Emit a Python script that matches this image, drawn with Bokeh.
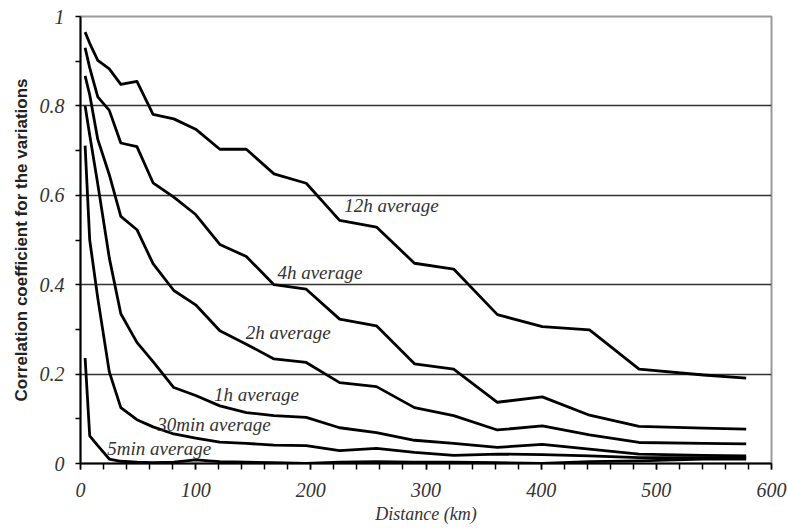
from bokeh.plotting import figure
from bokeh.models import Range1d, FixedTicker
from bokeh.core.properties import value
from bokeh.embed import file_html
from bokeh.resources import INLINE

# ---- data ----
distance_km = [4, 8, 15, 25, 35, 49, 63, 81, 100, 121, 144, 168, 196, 225,
               257, 290, 324, 362, 401, 442, 485, 541, 578]

avg_12h = [0.965, 0.940, 0.902, 0.883, 0.848, 0.855, 0.781, 0.771, 0.748, 0.703,
           0.703, 0.648, 0.627, 0.544, 0.529, 0.448, 0.435, 0.333, 0.306, 0.299,
           0.211, 0.198, 0.191]
avg_4h = [0.930, 0.885, 0.820, 0.790, 0.717, 0.709, 0.628, 0.596, 0.557, 0.490,
          0.463, 0.400, 0.390, 0.323, 0.308, 0.223, 0.211, 0.137, 0.149, 0.108,
          0.083, 0.079, 0.077]
avg_2h = [0.867, 0.825, 0.725, 0.646, 0.553, 0.523, 0.447, 0.387, 0.355, 0.297,
          0.267, 0.234, 0.226, 0.181, 0.172, 0.125, 0.107, 0.075, 0.084, 0.064,
          0.047, 0.045, 0.044]
avg_1h = [0.800, 0.735, 0.625, 0.460, 0.335, 0.271, 0.228, 0.170, 0.152, 0.129,
          0.114, 0.107, 0.103, 0.080, 0.069, 0.052, 0.045, 0.036, 0.043, 0.032,
          0.021, 0.018, 0.017]
avg_30min = [0.711, 0.500, 0.370, 0.205, 0.125, 0.098, 0.082, 0.066, 0.057, 0.048,
             0.045, 0.041, 0.040, 0.029, 0.034, 0.025, 0.018, 0.021, 0.020, 0.017,
             0.013, 0.013, 0.013]
avg_5min = [0.236, 0.062, 0.040, 0.010, 0.005, 0.003, 0.002, 0.003, 0.008, 0.004,
            0.003, 0.002, 0.000, 0.003, 0.004, 0.003, 0.003, 0.002, 0.000, 0.004,
            0.006, 0.010, 0.010]

series = [avg_12h, avg_4h, avg_2h, avg_1h, avg_30min, avg_5min]

label_texts = ["12h average", "4h average", "2h average", "1h average",
               "30min average", "5min average"]
label_x = [229, 171, 143.5, 116, 66.7, 23.2]
label_y = [0.577, 0.428, 0.293, 0.155, 0.088, 0.034]

x_ticks = [0, 100, 200, 300, 400, 500, 600]
x_minor = [v for v in range(0, 601, 20)]
y_ticks = [0, 0.2, 0.4, 0.6, 0.8, 1]
y_minor = [0.1, 0.3, 0.5, 0.7, 0.9]
y_tick_labels = {0: "0", 0.2: "0.2", 0.4: "0.4", 0.6: "0.6", 0.8: "0.8", 1: "1"}

# ---- figure ----
p = figure(width=788, height=529, output_backend="svg", toolbar_location=None,
           x_range=Range1d(0, 600), y_range=Range1d(0, 1),
           min_border_left=80, min_border_right=17, min_border_top=16,
           min_border_bottom=66)
p.background_fill_color = "white"
p.border_fill_color = "white"
p.outline_line_color = "#9a9a9a"
p.outline_line_width = 2

# grid: horizontal lines only
p.xgrid.visible = False
p.ygrid.ticker = FixedTicker(ticks=[0.2, 0.4, 0.6, 0.8])
p.ygrid.grid_line_color = "#333333"
p.ygrid.grid_line_width = 1.5

serif = "Liberation Serif"

# x axis
xa = p.xaxis[0]
xa.ticker = FixedTicker(ticks=x_ticks, minor_ticks=x_minor)
xa.axis_line_color = "black"
xa.axis_line_width = 2
xa.major_tick_out = 6
xa.major_tick_in = 0
xa.minor_tick_out = 6
xa.minor_tick_in = 0
xa.major_tick_line_color = "black"
xa.minor_tick_line_color = "black"
xa.major_tick_line_width = 1.5
xa.minor_tick_line_width = 1.5
xa.major_label_text_font = serif
xa.major_label_text_font_style = "italic"
xa.major_label_text_font_size = "20px"
xa.major_label_text_color = "#333333"
xa.major_label_standoff = 13
xa.axis_label = "Distance (km)"
xa.axis_label_text_font = serif
xa.axis_label_text_font_style = "italic"
xa.axis_label_text_font_size = "18px"
xa.axis_label_text_color = "#333333"
xa.axis_label_standoff = 4

# y axis
ya = p.yaxis[0]
ya.ticker = FixedTicker(ticks=y_ticks, minor_ticks=y_minor)
ya.major_label_overrides = y_tick_labels
ya.axis_line_color = "black"
ya.axis_line_width = 2
ya.major_tick_out = 5
ya.major_tick_in = 0
ya.minor_tick_out = 5
ya.minor_tick_in = 0
ya.major_tick_line_color = "black"
ya.minor_tick_line_color = "black"
ya.major_tick_line_width = 1.5
ya.minor_tick_line_width = 1.5
ya.major_label_text_font = serif
ya.major_label_text_font_style = "italic"
ya.major_label_text_font_size = "20px"
ya.major_label_text_color = "#333333"
ya.major_label_standoff = 11
ya.axis_label = "Correlation coefficient for the variations"
ya.axis_label_text_font = "Liberation Sans"
ya.axis_label_text_font_style = "bold"
ya.axis_label_text_font_size = "17px"
ya.axis_label_text_color = "#222222"
ya.axis_label_standoff = 6

# curves
for ys in series:
    p.line(distance_km, ys, line_color="black", line_width=2.8,
           line_join="round")

# curve labels
p.text(x=label_x, y=label_y, text=label_texts,
       text_font=value(serif), text_font_style="italic",
       text_font_size="19px", text_color="#333333",
       text_align="left", text_baseline="middle")

open("out.html", "w").write(file_html(p, INLINE))
